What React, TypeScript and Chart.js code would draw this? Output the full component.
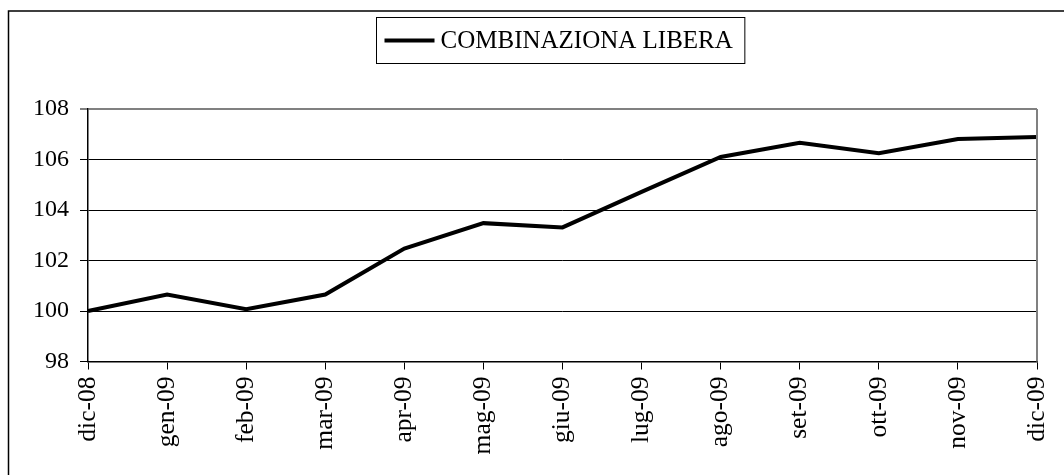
import React, { useEffect, useRef } from "react";
import { Chart, registerables } from "chart.js";

Chart.register(...registerables);

const categories = [
  "dic-08", "gen-09", "feb-09", "mar-09", "apr-09", "mag-09", "giu-09",
  "lug-09", "ago-09", "set-09", "ott-09", "nov-09", "dic-09",
];
const seriesLabel = "COMBINAZIONA LIBERA";
const seriesValues = [
  100.0, 100.65, 100.07, 100.65, 102.47, 103.48, 103.31,
  104.72, 106.1, 106.66, 106.25, 106.81, 106.89,
];
const yMin = 98;
const yMax = 108;
const yStep = 2;

const FONT = "'Liberation Serif', 'DejaVu Serif', serif";
const LEGEND_SIZE = 25;
const Y_SIZE = 24;
const X_SIZE = 25.5;

const framePlugin = {
  id: "framePlugin",
  afterDraw(chart: any) {
    const { ctx, chartArea } = chart;
    ctx.save();
    ctx.strokeStyle = "#000";
    ctx.lineWidth = 1.5;
    ctx.beginPath();
    ctx.moveTo(8.5, 480);
    ctx.lineTo(8.5, 11);
    ctx.lineTo(1070, 11);
    ctx.stroke();
    ctx.strokeStyle = "#808080";
    ctx.lineWidth = 2;
    ctx.beginPath();
    ctx.moveTo(chartArea.right, chartArea.top);
    ctx.lineTo(chartArea.right, chartArea.bottom);
    ctx.stroke();
    const label = chart.data.datasets[0].label as string;
    ctx.font = `${LEGEND_SIZE}px ${FONT}`;
    const tw = ctx.measureText(label).width;
    const padL = 8;
    const lineW = 50;
    const gap = 6;
    const padR = 12;
    const total = padL + lineW + gap + tw + padR;
    const cx = 560.5;
    const left = Math.round(cx - total / 2) + 0.5;
    const top = 17.5;
    const h = 46;
    ctx.strokeStyle = "#000";
    ctx.lineWidth = 1;
    ctx.strokeRect(left, top, total, h);
    ctx.lineWidth = 4;
    ctx.beginPath();
    ctx.moveTo(left + padL, top + h / 2);
    ctx.lineTo(left + padL + lineW, top + h / 2);
    ctx.stroke();
    ctx.fillStyle = "#000";
    ctx.textBaseline = "middle";
    ctx.textAlign = "left";
    ctx.fillText(label, left + padL + lineW + gap, top + h / 2 + 1);
    ctx.restore();
  },
};

export default function App() {
  const ref = useRef<HTMLCanvasElement | null>(null);
  useEffect(() => {
    if (!ref.current) return;
    const chart = new Chart(ref.current, {
      type: "line",
      data: {
        labels: categories,
        datasets: [
          {
            label: seriesLabel,
            data: seriesValues,
            borderColor: "#000",
            borderWidth: 4,
            pointRadius: 0,
            tension: 0,
            fill: false,
            clip: false as any,
          },
        ],
      },
      options: {
        animation: false,
        responsive: false,
        maintainAspectRatio: false,
        events: [],
        layout: { padding: { top: 109, right: 27, left: 0, bottom: 0 } },
        plugins: {
          legend: { display: false },
          tooltip: { enabled: false },
          title: { display: false },
        },
        scales: {
          x: {
            offset: false,
            afterFit(scale: any) {
              scale.height = 475 - 361.5;
              scale.paddingRight = 0;
              scale.paddingLeft = 0;
            },
            grid: {
              drawOnChartArea: false,
              drawTicks: true,
              tickLength: 8,
              tickColor: "#000",
              tickWidth: 1,
            },
            border: { display: true, color: "#000", width: 1.5 },
            ticks: {
              autoSkip: false,
              maxRotation: 90,
              minRotation: 90,
              padding: 7,
              color: "#000",
              font: { family: FONT, size: X_SIZE },
            },
          },
          y: {
            min: yMin,
            max: yMax,
            afterFit(scale: any) {
              scale.width = 88;
            },
            grid: {
              drawOnChartArea: true,
              drawTicks: true,
              tickLength: 8,
              color: (c: any) => (c.tick && c.tick.value === yMax ? "#808080" : "#000"),
              lineWidth: (c: any) => (c.tick && c.tick.value === yMax ? 2 : 1),
              tickColor: "#000",
              tickWidth: 1,
            },
            border: { display: true, color: "#000", width: 1.5 },
            ticks: {
              stepSize: yStep,
              padding: 11,
              color: "#000",
              font: { family: FONT, size: Y_SIZE },
            },
          },
        },
      },
      plugins: [framePlugin],
    });
    return () => chart.destroy();
  }, []);
  return (
    <div style={{ position: "fixed", left: 0, top: 0, width: 1064, height: 475, background: "#fff" }}>
      <canvas ref={ref} width={1064} height={475} style={{ width: 1064, height: 475, display: "block" }} />
    </div>
  );
}
